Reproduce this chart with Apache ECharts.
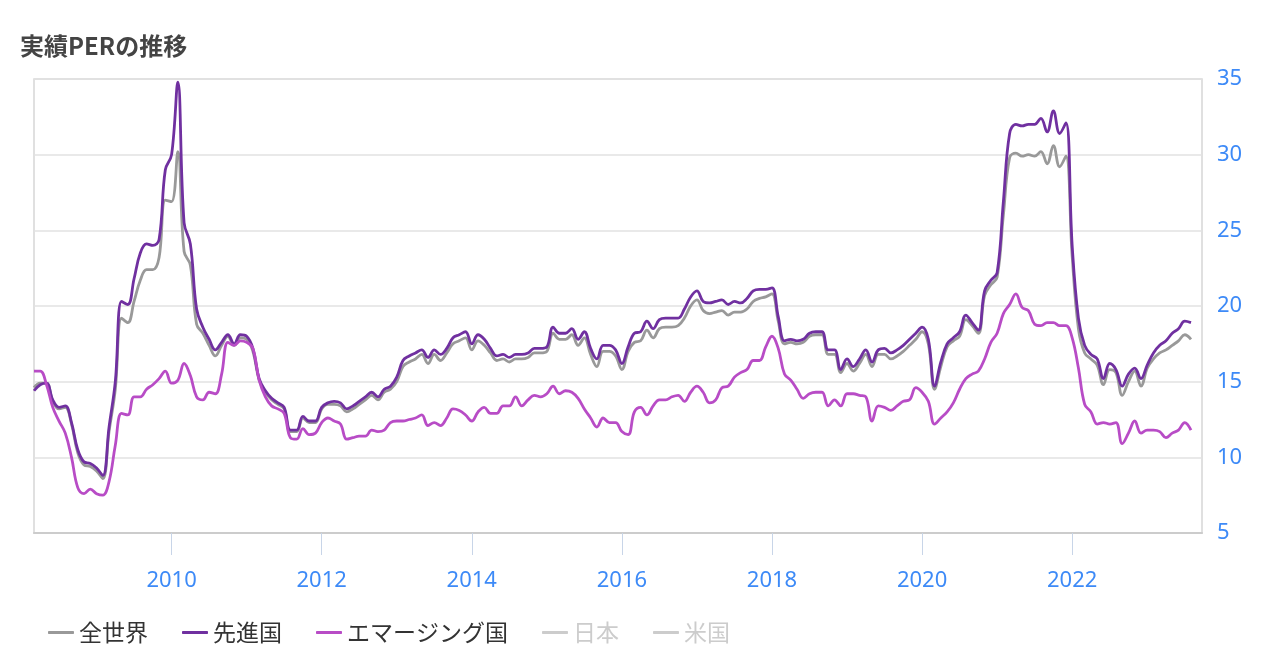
<!DOCTYPE html>
<html>
<head>
<meta charset="utf-8">
<title>実績PERの推移</title>
<script src="https://cdn.jsdelivr.net/npm/echarts@6/dist/echarts.min.js"></script>
<style>
  html, body { margin: 0; padding: 0; background: #fff; }
  #chart { width: 1279px; height: 672px; }
</style>
</head>
<body>
<div id="chart"></div>
<script>
// monthly series, first point = March 2008
const startYear = 2008
const startMonth = 3

const tickYears = [2010, 2012, 2014, 2016, 2018, 2020, 2022]

// 全世界
const worldValues = [
  14.6, 14.9, 14.9, 13.7, 13.2, 13.3, 12.2, 10.3, 9.5, 9.4,
  9.1, 8.6, 11.7, 14.5, 19.2, 18.9, 20.3, 21.7, 22.4, 22.4, 23.2, 27.0,
  26.9, 30.2, 23.6, 22.7, 18.8, 18.2, 17.4, 16.7, 17.4, 18.0, 17.4, 17.9,
  17.8, 17.0, 15.1, 14.3, 13.8, 13.5, 13.2, 11.7, 11.7, 12.6, 12.3, 12.3,
  13.2, 13.5, 13.5, 13.4, 13.0, 13.2, 13.5, 13.8, 14.1, 13.8, 14.3, 14.5,
  15.0, 16.0, 16.3, 16.5, 16.8, 16.2, 16.8, 16.4, 16.9, 17.5, 17.7, 17.9,
  17.1, 17.7, 17.4, 16.9, 16.4, 16.5, 16.3, 16.5, 16.5, 16.6, 16.9, 16.9,
  17.0, 18.2, 17.8, 17.8, 18.1, 17.4, 17.9, 16.8, 16.0, 17.0, 17.0, 16.7,
  15.8, 17.0, 17.6, 17.7, 18.4, 17.9, 18.5, 18.6, 18.6, 18.7, 19.2, 20.0,
  20.4, 19.7, 19.5, 19.6, 19.7, 19.4, 19.6, 19.6, 19.8, 20.3, 20.5, 20.6,
  20.8, 19.0, 17.5, 17.6, 17.5, 17.6, 18.0, 18.1, 18.1, 16.8, 16.8, 15.6,
  16.2, 15.7, 16.2, 16.8, 16.0, 16.8, 16.8, 16.5, 16.7, 17.0, 17.4, 17.8,
  18.3, 17.5, 14.5, 16.0, 17.3, 17.7, 18.0, 19.1, 18.7, 18.2, 20.7, 21.4,
  21.9, 26.0, 29.8, 30.1, 29.9, 30.0, 29.9, 30.2, 29.4, 30.6, 29.2, 29.9,
  23.3, 18.5, 16.9, 16.5, 16.1, 14.8, 15.8, 15.6, 14.1, 15.0, 15.7, 14.7,
  15.9, 16.5, 16.9, 17.1, 17.4, 17.7, 18.1, 17.8
]

// 先進国
const developedValues = [
  14.4, 14.8, 14.9, 13.8, 13.3, 13.4, 12.3, 10.5, 9.7, 9.6,
  9.3, 8.8, 12.0, 15.0, 20.3, 20.1, 21.8, 23.5, 24.1, 24.0, 24.4, 29.0,
  30.0, 34.8, 25.5, 24.1, 19.8, 18.6, 17.8, 17.1, 17.6, 18.1, 17.5, 18.1,
  18.0, 17.2, 15.2, 14.4, 13.9, 13.6, 13.3, 11.8, 11.8, 12.7, 12.4, 12.4,
  13.3, 13.6, 13.7, 13.6, 13.2, 13.4, 13.7, 14.0, 14.3, 14.0, 14.5, 14.7,
  15.3, 16.4, 16.7, 16.9, 17.1, 16.6, 17.1, 16.8, 17.2, 17.9, 18.1, 18.3,
  17.5, 18.1, 17.8, 17.2, 16.7, 16.8, 16.6, 16.8, 16.8, 16.9, 17.2, 17.2,
  17.3, 18.6, 18.2, 18.2, 18.5, 17.8, 18.3, 17.2, 16.5, 17.4, 17.4, 17.1,
  16.2, 17.3, 18.2, 18.3, 19.0, 18.5, 19.1, 19.2, 19.2, 19.2, 19.8, 20.6,
  21.0, 20.3, 20.2, 20.3, 20.4, 20.1, 20.3, 20.2, 20.5, 21.0, 21.1, 21.1,
  21.2, 19.3, 17.7, 17.8, 17.7, 17.8, 18.2, 18.3, 18.3, 17.1, 17.1, 15.8,
  16.5, 16.0, 16.5, 17.1, 16.3, 17.1, 17.2, 16.9, 17.1, 17.4, 17.8, 18.2,
  18.6, 17.8, 14.7, 16.3, 17.5, 17.9, 18.3, 19.4, 18.9, 18.4, 21.0, 21.7,
  22.2, 26.9, 31.4, 32.0, 31.9, 32.0, 32.0, 32.4, 31.5, 32.9, 31.4, 32.1,
  24.0, 19.2, 17.4, 16.8, 16.5, 15.2, 16.2, 15.8, 14.7, 15.5, 15.9, 15.2,
  16.1, 16.9, 17.4, 17.7, 18.2, 18.5, 19.0, 18.9
]

// エマージング国
const emergingValues = [
  15.7, 15.7, 14.8, 13.3, 12.4, 11.6, 10.0, 8.0, 7.6, 7.9,
  7.6, 7.5, 8.4, 10.8, 12.9, 12.8, 14.0, 14.0, 14.5, 14.8, 15.2, 15.7,
  14.9, 15.1, 16.2, 15.4, 14.0, 13.8, 14.3, 14.2, 15.5, 17.6, 17.4, 17.7,
  17.6, 17.2, 15.1, 14.0, 13.4, 13.2, 12.9, 11.3, 11.2, 11.9, 11.5, 11.6,
  12.3, 12.6, 12.4, 12.2, 11.2, 11.3, 11.4, 11.4, 11.8, 11.7, 11.8, 12.3,
  12.4, 12.4, 12.5, 12.6, 12.8, 12.1, 12.3, 12.1, 12.6, 13.2, 13.1, 12.8,
  12.4, 13.0, 13.3, 12.9, 12.9, 13.4, 13.4, 14.0, 13.4, 13.8, 14.1, 14.0,
  14.2, 14.7, 14.2, 14.4, 14.3, 13.9, 13.2, 12.6, 12.0, 12.6, 12.3, 12.3,
  11.7, 11.5, 13.0, 13.3, 12.8, 13.4, 13.8, 13.8, 14.0, 14.1, 13.7, 14.3,
  14.7, 14.3, 13.6, 13.8, 14.6, 14.7, 15.3, 15.6, 15.8, 16.4, 16.4, 17.3,
  18.0, 17.2, 15.5, 15.1, 14.5, 13.9, 14.2, 14.3, 14.3, 13.4, 13.8, 13.4,
  14.2, 14.2, 14.1, 14.0, 12.4, 13.4, 13.3, 13.1, 13.4, 13.7, 13.8, 14.6,
  14.3, 13.7, 12.2, 12.6, 13.0, 13.6, 14.5, 15.2, 15.5, 15.7, 16.5, 17.6,
  18.2, 19.5, 20.1, 20.8, 19.9, 19.7, 18.8, 18.7, 18.9, 18.9, 18.7, 18.7,
  17.9, 15.9, 13.5, 13.0, 12.2, 12.3, 12.2, 12.3, 10.9, 11.6, 12.4, 11.6,
  11.8, 11.8, 11.7, 11.3, 11.6, 11.8, 12.3, 11.8
]

// 日本・米国 are switched off in the legend
const japanValues = []
const usValues = []

// position of month i on a fractional-year axis
function monthPos(i) {
  return startYear + (startMonth - 1 + i) / 12
}

function toPairs(values) {
  return values.map((v, i) => [monthPos(i), v])
}

const chart = echarts.init(document.getElementById('chart'))

function lineSeries(name, values, color) {
  return {
    name: name,
    type: 'line',
    data: toPairs(values),
    smooth: 0.4,
    showSymbol: false,
    symbol: 'none',
    lineStyle: { width: 2.8, color: color },
    itemStyle: { color: color }
  }
}

chart.setOption({
  animation: false,
  title: {
    text: '実績PERの推移',
    left: 15,
    top: 29,
    textStyle: {
      fontFamily: '"Noto Sans CJK JP", "Noto Sans", sans-serif',
      fontSize: 24,
      fontWeight: 'bold',
      color: '#444'
    }
  },
  legend: {
    left: 43,
    top: 616,
    icon: 'roundRect',
    itemWidth: 26,
    itemHeight: 3,
    itemGap: 34,
    inactiveColor: '#ccc',
    textStyle: {
      fontFamily: '"Noto Sans CJK JP", sans-serif',
      fontSize: 23,
      color: '#333'
    },
    selected: { '日本': false, '米国': false },
    data: ['全世界', '先進国', 'エマージング国', '日本', '米国']
  },
  grid: {
    left: 34,
    right: 77,
    top: 79,
    bottom: 139,
    show: true,
    borderColor: '#d6d6d6',
    borderWidth: 1.5
  },
  xAxis: {
    type: 'value',
    min: monthPos(0),
    max: 2023.73,
    axisLine: { lineStyle: { color: '#cccccc', width: 2 } },
    axisTick: {
      show: true,
      length: 22,
      customValues: tickYears,
      lineStyle: { color: '#c8d5e8', width: 1 }
    },
    axisLabel: {
      customValues: tickYears,
      margin: 37,
      fontFamily: '"Noto Sans", "Open Sans", sans-serif',
      fontSize: 22,
      color: '#3d8af7',
      formatter: v => String(Math.round(v))
    },
    splitLine: { show: false }
  },
  yAxis: {
    type: 'value',
    position: 'right',
    min: 5,
    max: 35,
    interval: 5,
    axisLine: { show: false },
    axisTick: { show: false },
    axisLabel: {
      margin: 15,
      fontFamily: '"Noto Sans", "Open Sans", sans-serif',
      fontSize: 22,
      color: '#3d8af7'
    },
    splitLine: { lineStyle: { color: '#e2e2e2', width: 1.5 } }
  },
  series: [
    lineSeries('全世界', worldValues, '#999999'),
    lineSeries('先進国', developedValues, '#7030a0'),
    lineSeries('エマージング国', emergingValues, '#b84cc6'),
    lineSeries('日本', japanValues, '#e0a030'),
    lineSeries('米国', usValues, '#3080d0')
  ]
})
</script>
</body>
</html>
